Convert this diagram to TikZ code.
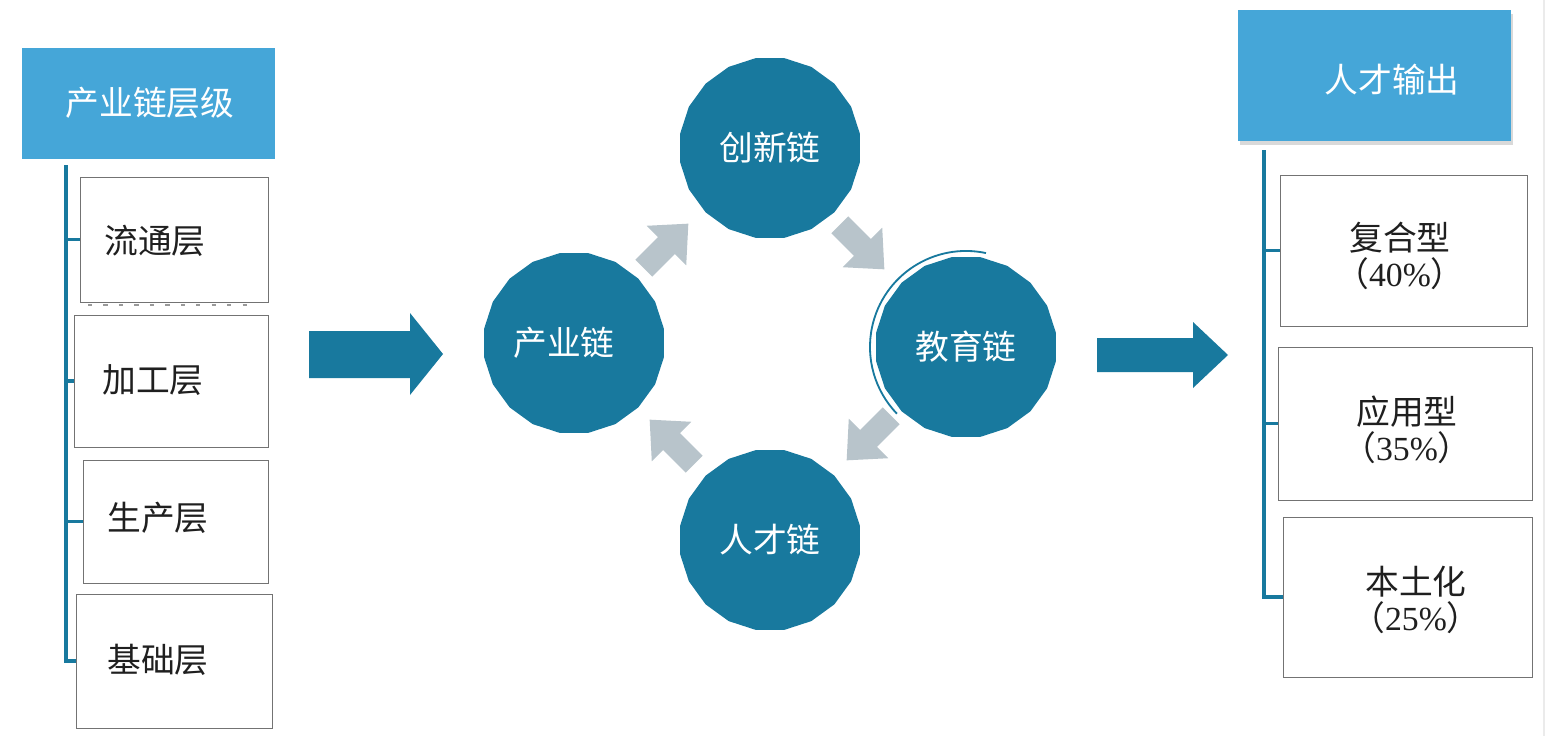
\documentclass[tikz,border=0pt]{standalone}
\usepackage{fontspec}
\newfontfamily\cjk{Noto Sans CJK SC}
\newfontfamily\numfont{Liberation Serif}
\usetikzlibrary{shapes.geometric,calc}
\definecolor{hdrblue}{HTML}{45A6D8}
\definecolor{chainblue}{HTML}{18799E}
\definecolor{arrgrey}{HTML}{B8C4CB}
\newcommand{\greyarrow}[3]{%
  \fill[arrgrey,shift={(#1,#2)},rotate=#3]
    (-30,-12) -- (2,-12) -- (2,-28) -- (33,0) -- (2,28) -- (2,12) -- (-30,12) -- cycle;}
\begin{document}
\begin{tikzpicture}[x=0.025cm,y=-0.025cm,
  bigfont/.style={font=\cjk\fontsize{24}{26}\selectfont},
  hdrbox/.style={fill=hdrblue, inner sep=0pt},
  layerbox/.style={draw=black!55, line width=0.6pt, fill=white, inner sep=0pt},
  darktext/.style={bigfont, text=black!88, align=center, inner sep=0pt},
  whitetext/.style={bigfont, text=white, inner sep=0pt},
  chain/.style={regular polygon, regular polygon sides=20, minimum size=4.55cm,
    fill=chainblue, inner sep=0pt, text=white, bigfont},
  tick/.style={draw=chainblue, line width=2.2pt},
]
\useasboundingbox (0,0) rectangle (1547,736);
\fill[white] (0,0) rectangle (1547,736);
\draw[black!8, line width=0.8pt] (1544,0) -- (1544,736);

% ---------- left column ----------
\node[hdrbox, minimum width=6.325cm, minimum height=2.775cm] (lh) at (148.5,103.5) {};
\node[whitetext] (lht) at (150,103) {产业链层级};

\coordinate (lx) at (66,0);
\node[layerbox, minimum width=4.70cm, minimum height=3.125cm] (b1) at (174,239.5) {};
\node[layerbox, minimum width=4.85cm, minimum height=3.30cm] (b2) at (171,381) {};
\node[layerbox, minimum width=4.625cm, minimum height=3.075cm] (b3) at (175.5,521.5) {};
\node[layerbox, minimum width=4.90cm, minimum height=3.35cm] (b4) at (174,661) {};
\draw[black!40, line width=1.4pt, dash pattern=on 3pt off 8pt] (88,305) -- (250,305);

\node[darktext] (t1) at (155,241) {流通层};
\node[darktext] (t2) at (153,380) {加工层};
\node[darktext] (t3) at (158,518) {生产层};
\node[darktext] (t4) at (158,660) {基础层};

\draw[tick] (66,165) -- (b4.west -| lx) -- (b4.west);
\draw[tick] (b1.west -| lx) -- (b1.west);
\draw[tick] (b2.west -| lx) -- (b2.west);
\draw[tick] (b3.west -| lx) -- (b3.west);

% ---------- big arrows ----------
\fill[chainblue] (309,331) -- (410,331) -- (410,313) -- (443,354) -- (410,395) -- (410,378) -- (309,378) -- cycle;
\fill[chainblue] (1097,338) -- (1193,338) -- (1193,322) -- (1228,355) -- (1193,388) -- (1193,372) -- (1097,372) -- cycle;

% ---------- chain cycle ----------
\node[chain] (cx) at (770,148) {创新链};
\node[chain] (cy) at (574,343) {\hspace*{-0.5cm}产业链};
\node[chain] (cj) at (966,347) {教育链};
\node[chain] (cr) at (770,540) {人才链};
\draw[chainblue, line width=1.3pt]
  ([shift={(78:2.4cm)}]cj.center) arc[start angle=78, end angle=224, radius=2.4cm];

\greyarrow{665}{247}{45}
\greyarrow{861}{246}{-45}
\greyarrow{870}{437}{-135}
\greyarrow{673}{443}{135}

% ---------- right column ----------
\fill[black!15] (1240,14) rectangle (1513,145);
\node[hdrbox, minimum width=6.825cm, minimum height=3.275cm] (rh) at (1374.5,75.5) {};
\node[whitetext] (rht) at (1392,80) {人才输出};

\coordinate (rx) at (1264,0);
\node[layerbox, minimum width=6.175cm, minimum height=3.775cm] (r1) at (1403.5,250.5) {};
\node[layerbox, minimum width=6.35cm, minimum height=3.825cm] (r2) at (1405,423.5) {};
\node[layerbox, minimum width=6.225cm, minimum height=4.0cm] (r3) at (1407.5,597) {};

\node[darktext] (s1) at (1400,256) {复合型\\{（}{\numfont 40\%}{）}};
\node[darktext] (s2) at (1407,430) {应用型\\{（}{\numfont 35\%}{）}};
\node[darktext] (s3) at (1416,600) {本土化\\{（}{\numfont 25\%}{）}};

\draw[tick] (1264,150) -- (r3.west -| rx) -- (r3.west);
\draw[tick] (r1.west -| rx) -- (r1.west);
\draw[tick] (r2.west -| rx) -- (r2.west);
\end{tikzpicture}
\end{document}
